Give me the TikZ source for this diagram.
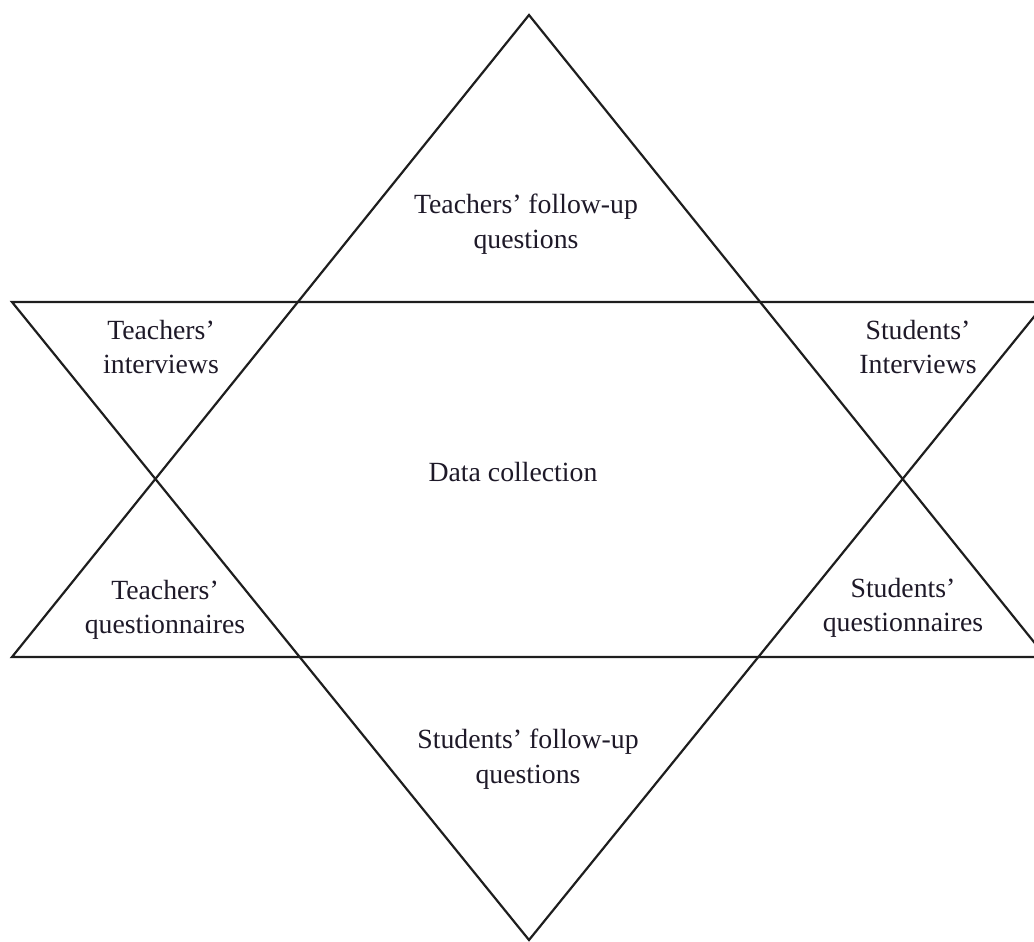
\documentclass[tikz,border=0pt]{standalone}
\usepackage{fontspec}
\setmainfont{Liberation Serif}
\usepackage{tikz}
\usetikzlibrary{positioning, calc}
\definecolor{edgecolor}{RGB}{30,30,30}
\definecolor{labelcolor}{RGB}{30,25,40}

\begin{document}
\begin{tikzpicture}[
    x=0.02cm, y=-0.02cm,
    edge/.style={draw=edgecolor, line width=1.25pt, line join=miter},
    label/.style={align=center, text=labelcolor, inner sep=0pt, font=\fontsize{15.8}{19.6}\selectfont}
]
    % Page frame
    \useasboundingbox (0,0) rectangle (1034,942);
    \clip (0,0) rectangle (1034,942);

    % Corners of the two triangles
    \coordinate (uptop) at (529,15);
    \coordinate (upleft) at (12,657);
    \coordinate (upright) at (1046,657);
    \coordinate (downleft) at (12,302);
    \coordinate (downright) at (1046,302);
    \coordinate (downbottom) at (529,940);

    % Triangles
    \draw[edge] (uptop) -- (upleft) -- (upright) -- cycle;
    \draw[edge] (downleft) -- (downright) -- (downbottom) -- cycle;

    % Labels
    \node[label] (tfollow) at (526,224) {Teachers' follow-up\\questions};
    \node[label] (tinter) at (161,347) {Teachers'\\interviews};
    \node[label] (sinter) at (918,347) {Students'\\Interviews};
    \node[label] (data) at (513,472) {Data collection};
    \node[label] (tquest) at (165,610) {Teachers'\\questionnaires};
    \node[label] (squest) at (903,608) {Students'\\questionnaires};
    \node[label] (sfollow) at (528,759) {Students' follow-up\\questions};
\end{tikzpicture}
\end{document}
